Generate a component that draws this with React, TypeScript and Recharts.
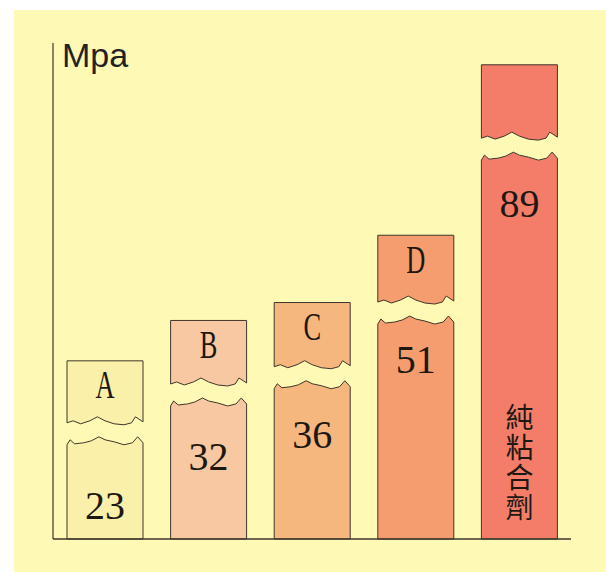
import { BarChart, Bar, XAxis, YAxis, ReferenceLine } from "recharts";

const categories = ["A", "B", "C", "D", "純粘合劑"];
const values = [23, 32, 36, 51, 89];
const unit = "Mpa";

const colors = ["#FAF0A9", "#F7C8A1", "#F6B77E", "#F59D6E", "#F37D69"];

const data = categories.map((name, i) => ({ name, value: values[i] }));

const GAP = 17;
const BASE = 539;
const LINE = "#3f362c";
const INK = "#1e1812";

// torn edge profiles (fraction of width, vertical offset)
const lowerEdge: [number, number][] = [
  [0, 5], [0.04, 0], [0.1, 4], [0.22, 3], [0.32, 1], [0.42, -3], [0.5, 0],
  [0.62, 2], [0.75, 5], [0.86, 3], [0.93, -3], [1, 3],
];
const capEdge: [number, number][] = [
  [0, 0], [0.08, -2], [0.18, 1], [0.3, -2], [0.4, -6], [0.5, -2],
  [0.62, 1], [0.75, 2], [0.85, 0], [0.9, -6], [1, -1],
];

function BrokenBar(props: any) {
  const { x, y, width, height, index, payload } = props;
  const fill = colors[index];
  const cap = 58 + height * 0.04;
  const capBottom = y - GAP;
  const capTop = capBottom - cap;

  const lowerTop = lowerEdge.map(([f, d]) => `L${x + f * width},${y + d}`).join(" ");
  const lowerPath = `M${x},${BASE} ${lowerTop} L${x + width},${BASE} Z`;

  const capBot = [...capEdge].reverse().map(([f, d]) => `L${x + f * width},${capBottom + d}`).join(" ");
  const capPath = `M${x},${capTop} L${x + width},${capTop} ${capBot} Z`;

  const cx = x + width / 2;
  const isLong = payload.name.length > 1;
  const numY = isLong ? y + 48 : y + Math.max(40, 90 - height * 0.25);

  return (
    <g>
      <path d={lowerPath} fill={fill} stroke={LINE} strokeWidth={1} />
      <path d={capPath} fill={fill} stroke={LINE} strokeWidth={1} />
      {!isLong && (
        <text
          transform={`translate(${cx},${capTop + 24}) scale(0.66,1)`}
          textAnchor="middle"
          dominantBaseline="central"
          fontFamily="'Liberation Serif', 'DejaVu Serif', serif"
          fontSize={40}
          fill={INK}
        >
          {payload.name}
        </text>
      )}
      <text
        x={cx}
        y={numY}
        textAnchor="middle"
        dominantBaseline="central"
        fontFamily="'Liberation Serif', 'DejaVu Serif', serif"
        fontSize={40}
        fill={INK}
      >
        {payload.value}
      </text>
      {isLong && (
        <text
          x={cx}
          y={403}
          textAnchor="start"
          fontFamily="'Noto Sans CJK TC', 'Noto Sans CJK SC', sans-serif"
          fontSize={28}
          letterSpacing={2}
          fill={INK}
          style={{ writingMode: "vertical-rl" }}
        >
          {payload.name}
        </text>
      )}
    </g>
  );
}

export default function App() {
  return (
    <div style={{ position: "absolute", left: 0, top: 0, width: 606, height: 572, background: "#ffffff" }}>
      <div style={{ position: "absolute", left: 14, top: 10, width: 592, height: 562, background: "#FEF9B5" }} />
      <div
        style={{
          position: "absolute",
          left: 62,
          top: 31,
          fontFamily: "'Liberation Sans', Arial, sans-serif",
          fontSize: 34,
          lineHeight: "48px",
          color: "#222",
        }}
      >
        {unit}
      </div>
      <div style={{ position: "absolute", left: 0, top: 0 }}>
        <BarChart
          width={606}
          height={572}
          data={data}
          margin={{ top: 43, right: 35, bottom: 32, left: 52 }}
          barSize={76}
        >
          <XAxis dataKey="name" tick={false} tickLine={false} height={1} axisLine={{ stroke: LINE, strokeWidth: 1.2 }} />
          <YAxis domain={[0, 115]} width={1} tick={false} tickLine={false} axisLine={{ stroke: LINE, strokeWidth: 1.2 }} />
          <Bar dataKey="value" shape={<BrokenBar />} isAnimationActive={false} />
          <ReferenceLine y={0} stroke={LINE} strokeWidth={1.2} />
        </BarChart>
      </div>
    </div>
  );
}
